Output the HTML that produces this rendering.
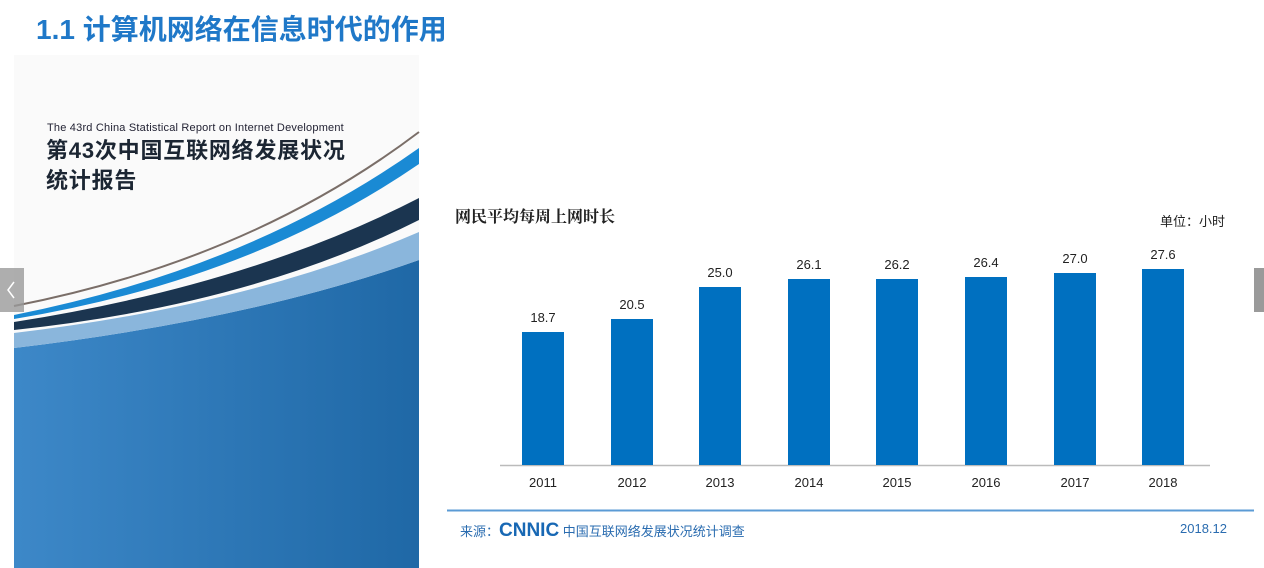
<!DOCTYPE html>
<html><head><meta charset="utf-8"><style>
body{margin:0;width:1264px;height:568px;background:#fff;position:relative;overflow:hidden;font-family:"Liberation Sans","Noto Sans CJK SC",sans-serif}
.a{position:absolute}
</style></head><body>
<div class="a" style="left:36px;top:8px;font-size:28px;font-weight:bold;color:#1f78c8">1.1 计算机网络在信息时代的作用</div>
<svg class="a" style="left:0;top:0" width="1264" height="568">
<defs><linearGradient id="g" x1="0" x2="1"><stop offset="0" stop-color="#3d88c8"/><stop offset="1" stop-color="#1f68a6"/></linearGradient></defs>
<rect x="14" y="55" width="405" height="513" fill="#fafafa"/>
<path d="M14 348 Q250 320 419 260 L419 568 L14 568Z" fill="url(#g)"/>
<path d="M14 333 Q250 305 419 232 L419 260 Q250 320 14 348Z" fill="#8ab6dc"/>
<path d="M14 322 Q250 285 419 198 L419 220 Q250 305 14 330Z" fill="#1b3550"/>
<path d="M14 315 Q250 268 419 148 L419 164 Q250 280 14 319Z" fill="#1a8ad4"/>
<path d="M14 306 Q250 260 419 132" stroke="#7a6e68" stroke-width="2" fill="none"/>
<rect x="0" y="268" width="24" height="44" fill="#9a9a9a" opacity=".8"/>
<path d="M14 282 L8 290 L14 298" stroke="#fff" fill="none" stroke-width="1.5"/>
<rect x="1254" y="268" width="10" height="44" fill="#9a9a9a"/>
<line x1="500" y1="465.5" x2="1210" y2="465.5" stroke="#bbb" stroke-width="1.5"/>
<g fill="#0070c0">
<rect x="522" y="332" width="42" height="133"/>
<rect x="611" y="319" width="42" height="146"/>
<rect x="699" y="287" width="42" height="178"/>
<rect x="788" y="279" width="42" height="186"/>
<rect x="876" y="279" width="42" height="186"/>
<rect x="965" y="277" width="42" height="188"/>
<rect x="1054" y="273" width="42" height="192"/>
<rect x="1142" y="269" width="42" height="196"/>
</g>
<g font-size="13" fill="#222" text-anchor="middle" font-family="Liberation Sans">
<text x="543" y="322">18.7</text><text x="632" y="309">20.5</text><text x="720" y="277">25.0</text><text x="809" y="269">26.1</text><text x="897" y="269">26.2</text><text x="986" y="267">26.4</text><text x="1075" y="263">27.0</text><text x="1163" y="259">27.6</text>
<text x="543" y="487">2011</text><text x="632" y="487">2012</text><text x="720" y="487">2013</text><text x="809" y="487">2014</text><text x="897" y="487">2015</text><text x="986" y="487">2016</text><text x="1075" y="487">2017</text><text x="1163" y="487">2018</text>
</g>
<line x1="447" y1="510.5" x2="1254" y2="510.5" stroke="#5b9bd5" stroke-width="2"/>
</svg>
<div class="a" style="left:47px;top:122px;font-size:11px;color:#223;letter-spacing:0.2px">The 43rd China Statistical Report on Internet Development</div>
<div class="a" style="left:46px;top:136px;font-size:22px;font-weight:bold;color:#1c2633;line-height:30px;letter-spacing:0.8px">第43次中国互联网络发展状况<br>统计报告</div>
<div class="a" style="left:455px;top:204px;font-size:16px;font-weight:bold;color:#222;font-family:'Noto Serif CJK SC',serif">网民平均每周上网时长</div>
<div class="a" style="left:1160px;top:211px;font-size:13px;color:#222">单位：小时</div>
<div class="a" style="left:460px;top:520px;font-size:13px;color:#2a6cb0;white-space:nowrap">来源：<b style="font-size:19px;font-family:'Liberation Sans';color:#1868b4">CNNIC</b> 中国互联网络发展状况统计调查</div>
<div class="a" style="left:1180px;top:521px;font-size:13px;color:#2a6cb0">2018.12</div>
</body></html>
